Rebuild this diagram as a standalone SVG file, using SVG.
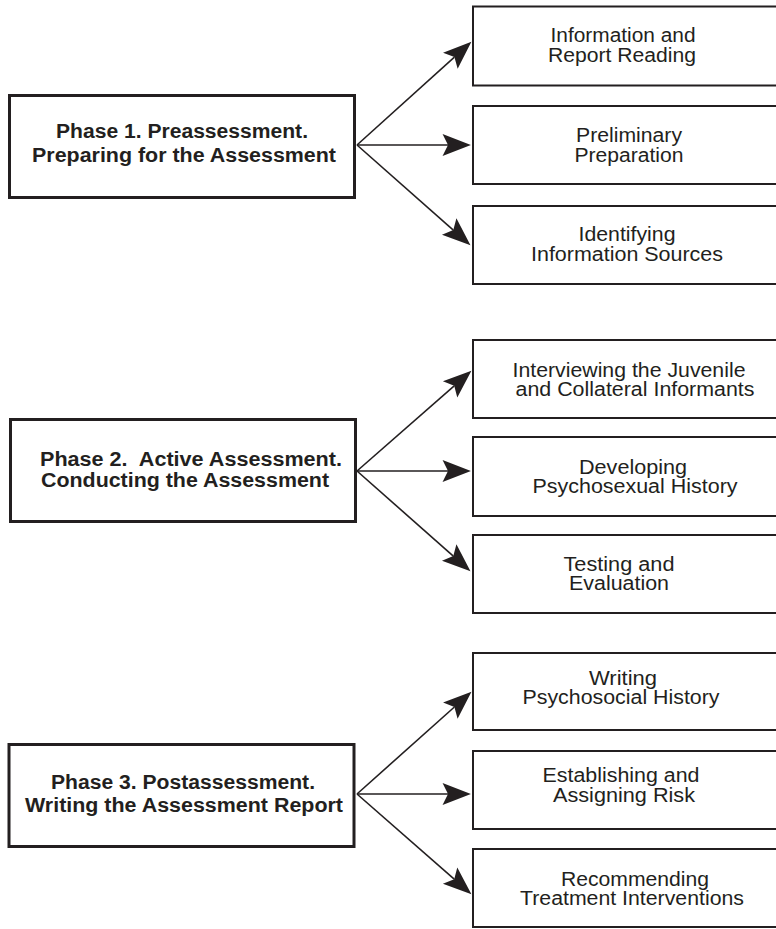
<svg xmlns="http://www.w3.org/2000/svg" width="776" height="929" viewBox="0 0 776 929">
  <style>
    .phase { fill: #ffffff; stroke: #231f20; stroke-width: 3; }
    .step { fill: #ffffff; stroke: #231f20; stroke-width: 2; }
    .pt { font-family: "Liberation Sans", Arial, sans-serif; font-weight: bold; font-size: 20px; fill: #231f20; }
    .st { font-family: "Liberation Sans", Arial, sans-serif; font-size: 19.5px; fill: #231f20; text-anchor: middle; }
    .arrow { stroke: #231f20; stroke-width: 1.6; fill: none; marker-end: url(#head); }
  </style>
  <defs>
    <!-- barbed arrowhead; origin sits at the notch so the shaft end is hidden -->
    <marker id="head" markerUnits="userSpaceOnUse" markerWidth="32" markerHeight="24" viewBox="-6 -11 28 22" refX="0" refY="0" orient="auto" overflow="visible">
      <path d="M21,0 L-5,-10 L0,0 L-5,10 Z" fill="#231f20"/>
    </marker>
  </defs>
  <rect width="776" height="929" fill="#ffffff"/>

  <!-- Phase 1 -->
  <g id="phase1">
    <rect class="phase" x="9.5" y="95.5" width="345" height="102"/>
    <text class="pt" x="182" y="138" text-anchor="middle" textLength="252" lengthAdjust="spacingAndGlyphs">Phase 1. Preassessment.</text>
    <text class="pt" x="184" y="161.5" text-anchor="middle" textLength="304" lengthAdjust="spacingAndGlyphs">Preparing for the Assessment</text>
  </g>
  <g id="p1-reading">
    <rect class="step" x="473" y="6.5" width="310" height="79"/>
    <text class="st" x="623" y="42" textLength="145" lengthAdjust="spacingAndGlyphs">Information and</text>
    <text class="st" x="622" y="61.5" textLength="148" lengthAdjust="spacingAndGlyphs">Report Reading</text>
  </g>
  <g id="p1-preparation">
    <rect class="step" x="473" y="106" width="310" height="78"/>
    <text class="st" x="629" y="141.5" textLength="106" lengthAdjust="spacingAndGlyphs">Preliminary</text>
    <text class="st" x="629" y="161.5" textLength="109" lengthAdjust="spacingAndGlyphs">Preparation</text>
  </g>
  <g id="p1-sources">
    <rect class="step" x="473" y="206" width="310" height="78"/>
    <text class="st" x="627" y="241" textLength="97" lengthAdjust="spacingAndGlyphs">Identifying</text>
    <text class="st" x="627" y="260.5" textLength="192" lengthAdjust="spacingAndGlyphs">Information Sources</text>
  </g>

  <!-- Phase 2 -->
  <g id="phase2">
    <rect class="phase" x="10.5" y="419.5" width="345" height="102"/>
    <text class="pt" x="40" y="466" xml:space="preserve" textLength="302" lengthAdjust="spacingAndGlyphs">Phase 2.  Active Assessment.</text>
    <text class="pt" x="41" y="486.5" textLength="288" lengthAdjust="spacingAndGlyphs">Conducting the Assessment</text>
  </g>
  <g id="p2-interviewing">
    <rect class="step" x="473" y="340" width="310" height="78"/>
    <text class="st" x="629" y="376.5" textLength="233" lengthAdjust="spacingAndGlyphs">Interviewing the Juvenile</text>
    <text class="st" x="635" y="395.5" textLength="239" lengthAdjust="spacingAndGlyphs">and Collateral Informants</text>
  </g>
  <g id="p2-psychosexual">
    <rect class="step" x="473" y="437" width="310" height="79"/>
    <text class="st" x="633" y="473.5" textLength="108" lengthAdjust="spacingAndGlyphs">Developing</text>
    <text class="st" x="635" y="493" textLength="205" lengthAdjust="spacingAndGlyphs">Psychosexual History</text>
  </g>
  <g id="p2-testing">
    <rect class="step" x="473" y="535" width="310" height="78"/>
    <text class="st" x="619" y="570.5" textLength="111" lengthAdjust="spacingAndGlyphs">Testing and</text>
    <text class="st" x="619" y="589.5" textLength="100" lengthAdjust="spacingAndGlyphs">Evaluation</text>
  </g>

  <!-- Phase 3 -->
  <g id="phase3">
    <rect class="phase" x="9" y="744.5" width="345" height="102"/>
    <text class="pt" x="183" y="789" text-anchor="middle" textLength="264" lengthAdjust="spacingAndGlyphs">Phase 3. Postassessment.</text>
    <text class="pt" x="184" y="811.5" text-anchor="middle" textLength="318" lengthAdjust="spacingAndGlyphs">Writing the Assessment Report</text>
  </g>
  <g id="p3-history">
    <rect class="step" x="473" y="653" width="310" height="77"/>
    <text class="st" x="623" y="684.5" textLength="68" lengthAdjust="spacingAndGlyphs">Writing</text>
    <text class="st" x="621" y="704" textLength="197" lengthAdjust="spacingAndGlyphs">Psychosocial History</text>
  </g>
  <g id="p3-risk">
    <rect class="step" x="473" y="751" width="310" height="78"/>
    <text class="st" x="621" y="782" textLength="157" lengthAdjust="spacingAndGlyphs">Establishing and</text>
    <text class="st" x="624" y="801.5" textLength="142" lengthAdjust="spacingAndGlyphs">Assigning Risk</text>
  </g>
  <g id="p3-interventions">
    <rect class="step" x="473" y="849" width="310" height="78"/>
    <text class="st" x="635" y="885.5" textLength="148" lengthAdjust="spacingAndGlyphs">Recommending</text>
    <text class="st" x="632" y="905" textLength="224" lengthAdjust="spacingAndGlyphs">Treatment Interventions</text>
  </g>

  <!-- connectors: each phase fans out to its three steps -->
  <g id="connectors">
    <line class="arrow" x1="357" y1="145" x2="454.4" y2="57.1"/>
    <line class="arrow" x1="357" y1="145" x2="448" y2="145"/>
    <line class="arrow" x1="357" y1="145" x2="453.3" y2="230.1"/>

    <line class="arrow" x1="357" y1="471" x2="454.2" y2="385.8"/>
    <line class="arrow" x1="357" y1="471" x2="448" y2="471"/>
    <line class="arrow" x1="357" y1="471" x2="453.3" y2="556.1"/>

    <line class="arrow" x1="357" y1="794" x2="454.4" y2="707"/>
    <line class="arrow" x1="357" y1="794" x2="448" y2="794"/>
    <line class="arrow" x1="357" y1="794" x2="454.2" y2="879.2"/>
  </g>
</svg>
